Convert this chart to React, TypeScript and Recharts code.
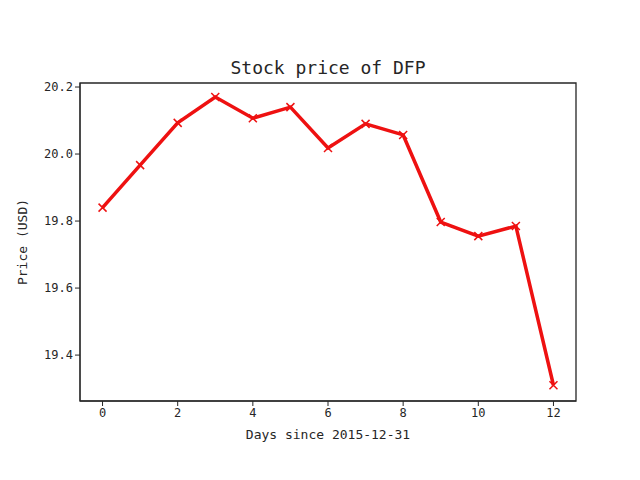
import { LineChart, Line, XAxis, YAxis, ReferenceArea } from 'recharts';

const days = [0, 1, 2, 3, 4, 5, 6, 7, 8, 9, 10, 11, 12];
const prices = [19.84, 19.967, 20.093, 20.17, 20.107, 20.14, 20.018, 20.09, 20.057, 19.797, 19.755, 19.785, 19.31];
const xTicks = [0, 2, 4, 6, 8, 10, 12];
const yTicks = [19.4, 19.6, 19.8, 20.0, 20.2];

const data = days.map((d, i) => ({ day: d, price: prices[i] }));

const font = '"DejaVu Sans Mono", monospace';
const tickStyle = { fontSize: 12, fill: '#262626', fontFamily: font };
const xDomain = [-0.6, 12.6];
const yDomain = [19.263, 20.212];

function Cross(props: any) {
  const { cx, cy } = props;
  if (cx == null || cy == null) return null;
  const s = 4;
  return (
    <path
      d={`M${cx - s},${cy - s}L${cx + s},${cy + s}M${cx - s},${cy + s}L${cx + s},${cy - s}`}
      stroke="#ee1111"
      strokeWidth={1.5}
    />
  );
}

export default function App() {
  return (
    <div style={{ position: 'absolute', left: 0, top: 0, width: 640, height: 480, background: '#fff' }}>
      <div
        style={{
          position: 'absolute', top: 57, width: 656, textAlign: 'center',
          fontFamily: font, fontSize: 18, color: '#262626',
        }}
      >
        Stock price of DFP
      </div>
      <LineChart width={640} height={480} data={data} margin={{ top: 83, right: 64, bottom: 39, left: 0 }}>
        <XAxis
          dataKey="day" type="number" domain={xDomain} ticks={xTicks}
          tick={tickStyle} stroke="#262626" tickSize={5} height={40}
          label={{ value: 'Days since 2015-12-31', position: 'insideBottom', offset: 2, style: { ...tickStyle, fontSize: 13 } }}
        />
        <YAxis
          type="number" domain={yDomain} ticks={yTicks} width={80}
          tick={tickStyle} stroke="#262626" tickSize={5}
          tickFormatter={(v: number) => v.toFixed(1)}
          label={{ value: 'Price (USD)', angle: -90, position: 'insideLeft', offset: 22, style: { ...tickStyle, fontSize: 13, textAnchor: 'middle' } }}
        />
        <ReferenceArea
          x1={xDomain[0]} x2={xDomain[1]} y1={yDomain[0]} y2={yDomain[1]}
          fill="none" stroke="#262626" strokeWidth={1.3} fillOpacity={0}
        />
        <Line
          dataKey="price" stroke="#ee1111" strokeWidth={3.5} dot={<Cross />}
          activeDot={false} isAnimationActive={false} strokeLinejoin="miter"
        />
      </LineChart>
    </div>
  );
}
